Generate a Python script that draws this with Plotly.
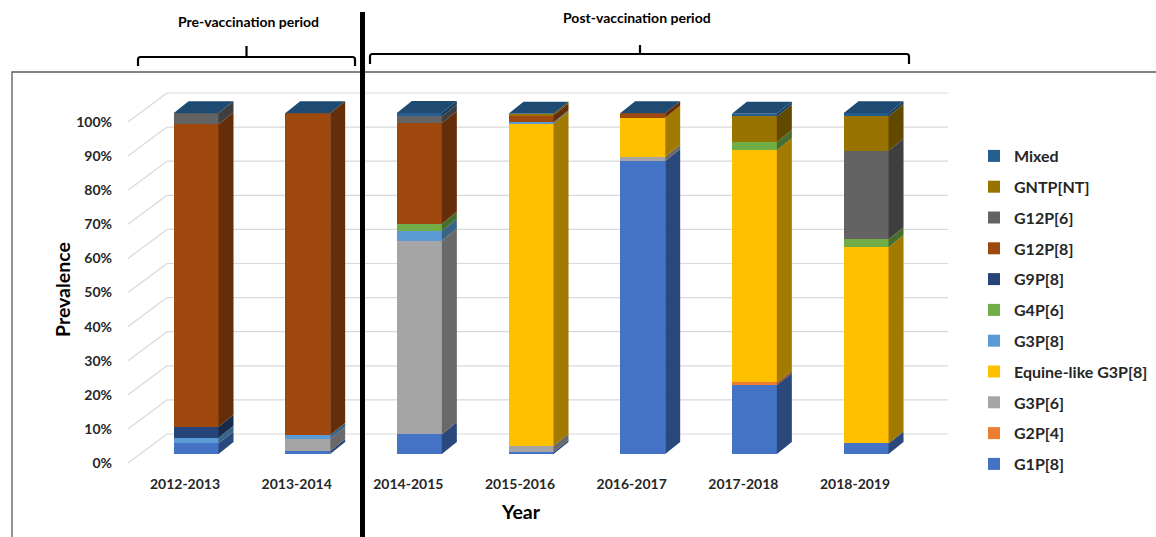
import plotly.graph_objects as go

# ---------------- data ----------------
years = ["2012-2013", "2013-2014", "2014-2015", "2015-2016", "2016-2017", "2017-2018", "2018-2019"]

g1p8 = [3.1, 0.9, 5.8, 0.6, 85.9, 20.2, 3.1]
g2p4 = [0, 0, 0, 0, 0, 0.8, 0]
g3p6 = [0, 3.5, 56.7, 1.8, 1.3, 0, 0]
equine_g3p8 = [0, 0, 0, 94.6, 11.4, 68.1, 57.5]
g3p8 = [1.7, 1.2, 2.9, 0.3, 0, 0, 0]
g4p6 = [0, 0, 2.1, 0, 0, 2.4, 2.4]
g9p8 = [3.2, 0, 0, 0, 0, 0, 0]
g12p8 = [88.7, 94.3, 29.5, 2.0, 1.3, 0, 0]
g12p6 = [3.2, 0, 2.0, 0, 0, 0, 25.9]
gntp_nt = [0, 0, 0, 0.5, 0, 7.5, 10.2]
mixed = [0, 0, 1.0, 0, 0, 0.8, 0.8]

series_names = ["G1P[8]", "G2P[4]", "G3P[6]", "Equine-like G3P[8]", "G3P[8]",
                "G4P[6]", "G9P[8]", "G12P[8]", "G12P[6]", "GNTP[NT]", "Mixed"]
series_values = [g1p8, g2p4, g3p6, equine_g3p8, g3p8, g4p6, g9p8, g12p8, g12p6, gntp_nt, mixed]
series_colors = ["#4472C4", "#ED7D31", "#A5A5A5", "#FFC000", "#5B9BD5",
                 "#70AD47", "#264478", "#9E480E", "#636363", "#997300", "#255E91"]

y_ticks = [0, 10, 20, 30, 40, 50, 60, 70, 80, 90, 100]

# ---------------- layout constants (pixels) ----------------
W, H = 1156, 537
FONT = "Lato, 'Open Sans', sans-serif"
TXT = "#262626"

cat0_px = 196.0      # pixel x of first bar's front centre
cat_step = 111.67    # pixels between categories
y0_px = 454.0        # pixel y of 0% on bar front face
ppu = 3.41           # pixels per percent
xdom_px = (120, 960)
ydom_px = (470, 80)

def px2x(p):
    return (p - cat0_px) / cat_step

def px2v(p):
    return (y0_px - p) / ppu

def pxx(p):
    return p / W

def pxy(p):
    return 1 - p / H

bar_w = 45 / cat_step
dx = 15 / cat_step
dy = 12 / ppu
back_shift = 20 / ppu
front_shift = -9 / ppu

def darker(hexc, f=0.64):
    hexc = hexc.lstrip("#")
    r, g, b = (int(hexc[i:i + 2], 16) for i in (0, 2, 4))
    return "rgb(%d,%d,%d)" % (r * f, g * f, b * f)

fig = go.Figure()

xs = list(range(len(years)))
n_series = len(series_names)
for k, (name, vals, col) in enumerate(zip(series_names, series_values, series_colors)):
    fig.add_trace(go.Bar(
        x=xs, y=vals, name=name, width=bar_w,
        marker=dict(color=col, line=dict(width=0)),
        legendgroup=name, legendrank=100 + n_series - k,
    ))

# 3D side faces derived from stacked data
base = [0.0] * len(years)
for name, vals, col in zip(series_names, series_values, series_colors):
    px_, py_ = [], []
    for i, v in enumerate(vals):
        b = base[i]
        t = b + v
        if v > 0:
            xr = i + bar_w / 2
            px_ += [xr, xr + dx, xr + dx, xr, xr, None]
            py_ += [b, b + dy, t + dy, t, b, None]
        base[i] = t
    if px_:
        fig.add_trace(go.Scatter(
            x=px_, y=py_, mode="lines", fill="toself",
            fillcolor=darker(col), line=dict(width=0, color=darker(col)),
            hoverinfo="skip", showlegend=False,
        ))
tops = base
# top faces
tx, ty = [], []
for i, t in enumerate(tops):
    xl = i - bar_w / 2
    xr = i + bar_w / 2
    tx += [xl, xl + dx, xr + dx, xr, xl, None]
    ty += [t, t + dy, t + dy, t, t, None]
fig.add_trace(go.Scatter(
    x=tx, y=ty, mode="lines", fill="toself", fillcolor="#1F4B73",
    line=dict(width=0, color="#1F4B73"), hoverinfo="skip", showlegend=False,
))

# dummy trace for the y tick labels axis
fig.add_trace(go.Scatter(x=[0], y=[0], yaxis="y2", mode="markers",
                         marker=dict(opacity=0), hoverinfo="skip", showlegend=False))

shapes = []
# back-wall gridlines and side-wall diagonals
for t in y_ticks:
    shapes.append(dict(type="line", xref="x", yref="y", x0=px2x(167), x1=px2x(948),
                       y0=t + back_shift, y1=t + back_shift,
                       line=dict(color="#D9D9D9", width=1.2), layer="below"))
    shapes.append(dict(type="line", xref="x", yref="y", x0=px2x(128), x1=px2x(167),
                       y0=t + front_shift, y1=t + back_shift,
                       line=dict(color="#D9D9D9", width=1.2), layer="below"))

# chart box
shapes.append(dict(type="rect", xref="paper", yref="paper",
                   x0=pxx(12), x1=pxx(1170), y0=pxy(72), y1=pxy(560),
                   line=dict(color="#595959", width=1.3), layer="below"))
# thick separator
shapes.append(dict(type="line", xref="paper", yref="paper",
                   x0=pxx(362.5), x1=pxx(362.5), y0=pxy(12), y1=pxy(540),
                   line=dict(color="black", width=5)))

def bracket(xl, xr, xc, yl, yend, ytip):
    r = 2.5
    p = "M {a},{b} L {a},{c} Q {a},{d} {e},{d} L {f},{d} Q {g},{d} {g},{c} L {g},{b}".format(
        a=pxx(xl), b=pxy(yend), c=pxy(yl + r), d=pxy(yl), e=pxx(xl + r), f=pxx(xr - r), g=pxx(xr))
    shapes.append(dict(type="path", xref="paper", yref="paper", path=p,
                       line=dict(color="black", width=2.2)))
    shapes.append(dict(type="line", xref="paper", yref="paper",
                       x0=pxx(xc), x1=pxx(xc), y0=pxy(yl), y1=pxy(ytip),
                       line=dict(color="black", width=2.2)))

bracket(138, 355, 246.5, 57, 66, 46)
bracket(370, 909, 640, 54, 64, 45)

def ann(text, x, y, size, angle=0):
    return dict(text="<b>%s</b>" % text, x=pxx(x), y=pxy(y), xref="paper", yref="paper",
                xanchor="center", yanchor="middle", showarrow=False, textangle=angle,
                font=dict(family=FONT, size=size, color="black"))

annotations = [
    ann("Prevalence", 62, 290, 19.5, -90),
    ann("Year", 521, 511, 19.5),
    ann("Pre-vaccination period", 248, 22, 14),
    ann("Post-vaccination period", 637, 18, 14),
]

yr = [px2v(ydom_px[0]), px2v(ydom_px[1])]
fig.update_layout(
    width=W, height=H,
    margin=dict(l=0, r=0, t=0, b=0),
    paper_bgcolor="white", plot_bgcolor="rgba(0,0,0,0)",
    barmode="stack",
    font=dict(family=FONT, color=TXT),
    xaxis=dict(domain=[pxx(xdom_px[0]), pxx(xdom_px[1])],
               range=[px2x(xdom_px[0]), px2x(xdom_px[1])],
               tickvals=[i - 11 / cat_step for i in xs],
               ticktext=["<b>%s</b>" % y for y in years],
               tickfont=dict(family=FONT, size=14, color=TXT),
               showgrid=False, zeroline=False, showline=False, ticks="",
               ticklabelstandoff=4, fixedrange=True),
    yaxis=dict(domain=[pxy(ydom_px[0]), pxy(ydom_px[1])], range=yr,
               showgrid=False, zeroline=False, showline=False,
               showticklabels=False, ticks="", fixedrange=True),
    yaxis2=dict(overlaying="y", anchor="x", side="left",
                range=[yr[0] - front_shift, yr[1] - front_shift],
                tickvals=y_ticks, ticktext=["<b>%d%%</b>" % t for t in y_ticks],
                tickfont=dict(family=FONT, size=14, color=TXT),
                showgrid=False, zeroline=False, showline=False, ticks="",
                ticklabelstandoff=7, fixedrange=True),
    legend=dict(traceorder="grouped", tracegroupgap=7,
                x=pxx(974), y=pxy(139), xanchor="left", yanchor="top",
                font=dict(family=FONT, size=16, color=TXT, weight="bold"),
                bgcolor="rgba(0,0,0,0)", itemclick=False, itemdoubleclick=False),
    shapes=shapes,
    annotations=annotations,
    showlegend=True,
)

fig.write_html("out.html")
